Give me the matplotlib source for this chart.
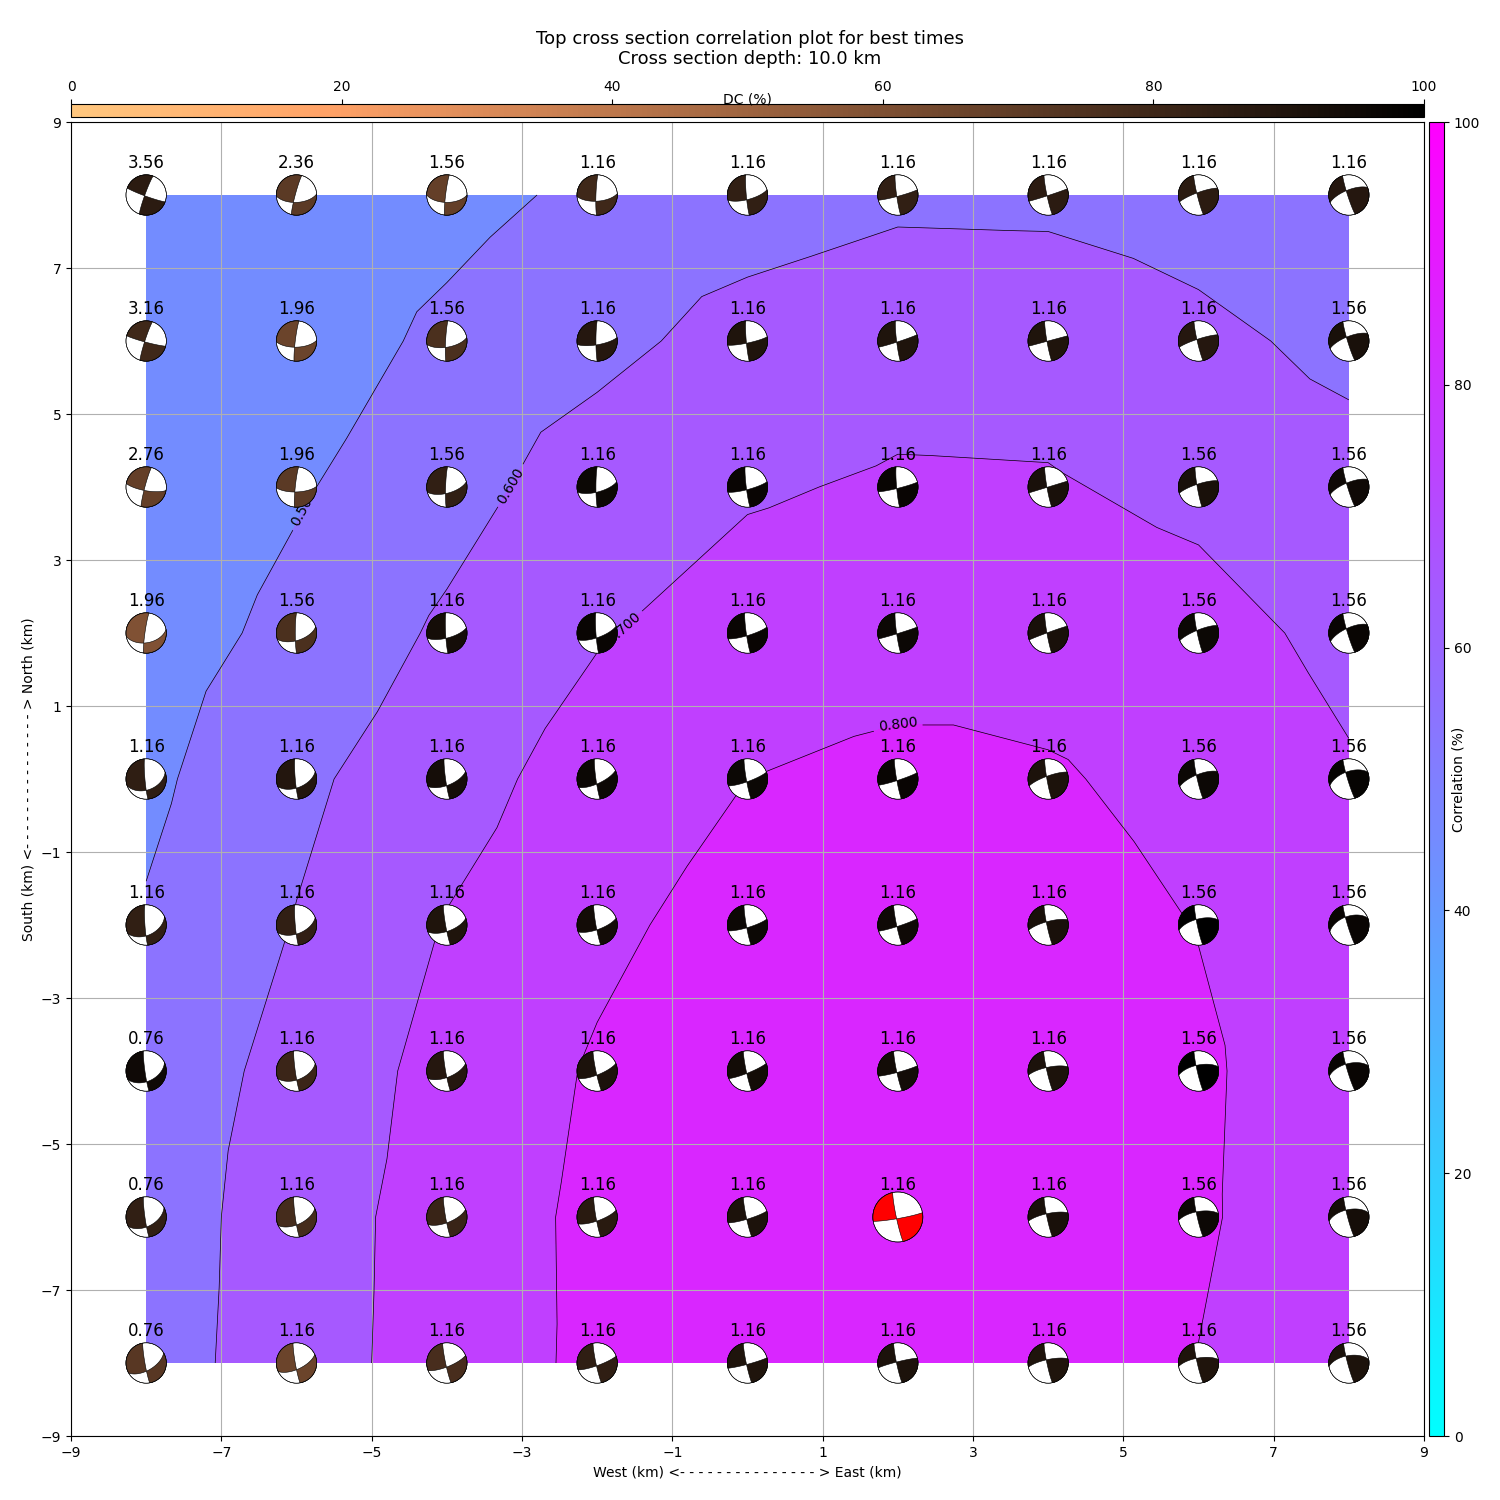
import numpy as np
import matplotlib
matplotlib.use('Agg')
import matplotlib.pyplot as plt
import matplotlib.tri as mtri
from matplotlib.patches import Ellipse, Polygon
from matplotlib.cm import ScalarMappable
from matplotlib.colors import Normalize

x_grid = [-8, -6, -4, -2, 0, 2, 4, 6, 8]
y_grid = [8, 6, 4, 2, 0, -2, -4, -6, -8]

correlation = [
    [.415, .420, .470, .520, .555, .5826, .580, .554, .540],
    [.410, .451, .520, .574, .635, .662, .660, .625, .573],
    [.415, .490, .565, .648, .690, .711, .708, .677, .640],
    [.447, .530, .615, .693, .743, .760, .760, .735, .674],
    [.479, .580, .660, .745, .800, .8235, .810, .770, .710],
    [.509, .604, .705, .780, .837, .850, .840, .7975, .730],
    [.540, .632, .733, .810, .850, .865, .855, .815, .736],
    [.550, .650, .745, .821, .860, .875, .865, .812, .737],
    [.555, .653, .747, .820, .855, .868, .850, .798, .730],
]
# split direction of every grid cell: 'n' joins top-left to bottom-right, 'p' bottom-left to top-right
cell_split = [
    'nnnnnppn',
    'npnpnppp',
    'nnppnppn',
    'nnnnnppp',
    'npnnnppp',
    'pnnpnppp',
    'nnnnnppp',
    'nnnnnppp',
]
shift_labels = [
    ['3.56', '2.36', '1.56', '1.16', '1.16', '1.16', '1.16', '1.16', '1.16'],
    ['3.16', '1.96', '1.56', '1.16', '1.16', '1.16', '1.16', '1.16', '1.56'],
    ['2.76', '1.96', '1.56', '1.16', '1.16', '1.16', '1.16', '1.56', '1.56'],
    ['1.96', '1.56', '1.16', '1.16', '1.16', '1.16', '1.16', '1.56', '1.56'],
    ['1.16', '1.16', '1.16', '1.16', '1.16', '1.16', '1.16', '1.56', '1.56'],
    ['1.16', '1.16', '1.16', '1.16', '1.16', '1.16', '1.16', '1.56', '1.56'],
    ['0.76', '1.16', '1.16', '1.16', '1.16', '1.16', '1.16', '1.56', '1.56'],
    ['0.76', '1.16', '1.16', '1.16', '1.16', '1.16', '1.16', '1.56', '1.56'],
    ['0.76', '1.16', '1.16', '1.16', '1.16', '1.16', '1.16', '1.16', '1.56'],
]
dc_percent = [
    [86, 71, 68, 80, 84, 84, 86, 86, 88],
    [80, 66, 76, 88, 90, 90, 90, 88, 92],
    [68, 71, 84, 96, 97, 97, 92, 92, 95],
    [59, 76, 93, 97, 97, 96, 92, 96, 97],
    [85, 89, 93, 96, 96, 97, 91, 96, 98],
    [84, 84, 90, 94, 96, 95, 92, 100, 97],
    [95, 81, 88, 91, 94, 94, 91, 100, 97],
    [84, 78, 82, 87, 91, 90, 92, 96, 93],
    [72, 66, 77, 85, 90, 91, 90, 90, 91],
]
strike_a = [
    [200, 195, 187, 182, 175, 172, 168, 166, 162],
    [198, 187, 183, 180, 175, 173, 170, 167, 163],
    [195, 186, 182, 180, 173, 175, 170, 170, 163],
    [188, 180, 177, 176, 172, 172, 170, 168, 163],
    [175, 175, 172, 172, 170, 170, 170, 167, 163],
    [176, 175, 170, 170, 170, 168, 168, 168, 163],
    [172, 172, 170, 168, 168, 168, 167, 167, 163],
    [172, 172, 170, 170, 168, 168, 168, 167, 165],
    [170, 170, 168, 168, 168, 168, 168, 167, 165],
]
dip_a = [
    [85, 85, 85, 85, 85, 85, 85, 85, 85],
    [85, 85, 85, 85, 85, 85, 85, 85, 85],
    [85, 85, 85, 85, 85, 85, 85, 85, 85],
    [85, 85, 85, 85, 85, 85, 85, 85, 85],
    [85, 85, 85, 85, 85, 85, 85, 85, 85],
    [85, 85, 85, 85, 85, 85, 85, 85, 85],
    [85, 85, 85, 85, 85, 85, 85, 85, 85],
    [85, 85, 85, 85, 85, 85, 85, 85, 85],
    [85, 85, 85, 85, 85, 85, 85, 85, 85],
]
strike_b = [
    [110, 87, 90, 86, 75, 75, 72, 250, 248],
    [105, 88, 80, 80, 78, 72, 75, 252, 248],
    [100, 88, 75, 75, 75, 76, 73, 252, 248],
    [80, 72, 75, 70, 73, 73, 250, 248, 245],
    [70, 68, 68, 65, 70, 72, 250, 248, 250],
    [65, 68, 70, 70, 73, 72, 255, 255, 250],
    [65, 68, 68, 68, 68, 75, 258, 258, 255],
    [62, 65, 68, 70, 73, 80, 258, 260, 258],
    [60, 65, 68, 70, 75, 256, 258, 260, 260],
]
dip_b = [
    [85, 60, 60, 65, 72, 85, 88, 80, 70],
    [85, 65, 65, 75, 82, 87, 90, 82, 72],
    [75, 70, 65, 70, 80, 85, 90, 78, 72],
    [50, 60, 70, 72, 80, 88, 88, 78, 70],
    [45, 55, 65, 72, 80, 85, 78, 72, 60],
    [48, 55, 65, 72, 80, 85, 76, 66, 55],
    [48, 55, 65, 75, 82, 85, 75, 66, 60],
    [52, 60, 68, 75, 82, 85, 76, 68, 60],
    [60, 65, 75, 80, 85, 85, 76, 70, 60],
]
best_x, best_y = 2, -6
levels = [.4, .5, .6, .7, .8, .9]
label_spots = [(-6.0, 3.76), (-3.12, 4.0), (-1.67, 2.1), (2.0, 0.74)]


def plane_normal(strike, dip):
    s, d = np.radians(strike), np.radians(dip)
    h = np.array([np.sin(s), np.cos(s), 0.0])
    dv = np.array([np.cos(d) * np.cos(s), -np.cos(d) * np.sin(s), np.sin(d)])
    return np.cross(h, dv)


def project(v):
    theta = np.arccos(np.clip(v[2], -1, 1))
    r = np.sqrt(2) * np.sin(theta / 2)
    hz = np.hypot(v[0], v[1])
    if hz < 1e-9:
        return np.array([0.0, 0.0])
    return np.array([v[0], v[1]]) / hz * r


def arc3d(a, b, n=24):
    om = np.arccos(np.clip(np.dot(a, b), -1, 1))
    if om < 1e-6:
        return [a]
    return [(np.sin((1 - t) * om) * a + np.sin(t * om) * b) / np.sin(om)
            for t in np.linspace(0, 1, n)]


def rim(az):
    a = np.radians(az)
    return np.array([np.sin(a), np.cos(a), 0.0])


def beach(ax, cx, cy, s1, d1, s2, d2, color, rx, ry, lw=0.4, zorder=5):
    ax.add_patch(Ellipse((cx, cy), 2 * rx, 2 * ry, fc='white', ec='black', lw=lw, zorder=zorder))
    n1, n2 = plane_normal(s1, d1), plane_normal(s2, d2)
    b = np.cross(n1, n2)
    b /= np.linalg.norm(b)
    if b[2] < 0:
        b = -b
    north = s1 % 180
    if north > 90:
        north -= 180
    east = s2 % 180
    for a0, a1 in ((east, north + 180), (east + 180, north + 360)):
        pts = [project(p) for p in arc3d(b, rim(a0))]
        pts += [project(rim(a)) for a in np.linspace(a0, a1, 40)]
        pts += [project(p) for p in arc3d(rim(a1), b)]
        pts = np.array(pts) * [rx, ry] + [cx, cy]
        ax.add_patch(Polygon(pts, closed=True, fc=color, ec='black', lw=lw, zorder=zorder + 0.1))
    ax.add_patch(Ellipse((cx, cy), 2 * rx, 2 * ry, fc='none', ec='black', lw=lw, zorder=zorder + 0.2))


fig = plt.figure(figsize=(15, 15), dpi=100)
W = H = 1500.0
ax = fig.add_axes([71 / W, 1 - 1436 / H, (1424 - 71) / W, (1436 - 122) / H])
ax.set_xlim(-9, 9)
ax.set_ylim(-9, 9)

xs, ys = np.meshgrid(x_grid, y_grid)
zs = np.array(correlation)
nr, nc = zs.shape
tris = []
for j in range(nr - 1):
    for i in range(nc - 1):
        tl = j * nc + i
        tr = tl + 1
        bl = tl + nc
        br = bl + 1
        if cell_split[j][i] == 'n':
            tris += [[tl, bl, br], [tl, br, tr]]
        else:
            tris += [[tl, bl, tr], [bl, br, tr]]
tri = mtri.Triangulation(xs.ravel(), ys.ravel(), tris)

ax.tricontourf(tri, zs.ravel(), levels=levels, cmap='cool', vmin=0, vmax=1, zorder=1)
cs = ax.tricontour(tri, zs.ravel(), levels=levels[1:-1], colors='black', linewidths=0.5, zorder=2)
ax.clabel(cs, fmt='%.3f', fontsize=10, manual=label_spots)
ax.grid(True)
ax.set_xticks(range(-9, 10, 2))
ax.set_yticks(range(-9, 10, 2))
ax.set_xlabel('West (km) <- - - - - - - - - - - - - - - > East (km)')
ax.set_ylabel('South (km) <- - - - - - - - - - - - - - - > North (km)')

dc_map = plt.get_cmap('copper_r')
rx0, ry0 = 20.2 / 75.17, 20.2 / 73.0
for j, y in enumerate(y_grid):
    for i, x in enumerate(x_grid):
        best = (x == best_x and y == best_y)
        col = 'red' if best else dc_map(dc_percent[j][i] / 100.0)
        k = 25 / 20.2 if best else 1.0
        beach(ax, x, y, strike_a[j][i], dip_a[j][i], strike_b[j][i], dip_b[j][i],
              col, rx0 * k, ry0 * k)
        ax.text(x, y + 0.37, shift_labels[j][i], ha='center', va='baseline',
                fontsize=12, zorder=8)

cax_top = fig.add_axes([71 / W, 1 - 117 / H, (1424 - 71) / W, 13 / H])
cb_top = fig.colorbar(ScalarMappable(Normalize(0, 100), 'copper_r'), cax=cax_top, orientation='horizontal')
cax_top.xaxis.set_ticks_position('top')
cb_top.set_ticks(range(0, 101, 20))
cax_top.xaxis.set_label_position('top')
cb_top.set_label('DC (%)')
cax_top.xaxis.set_label_coords(0.5, 1.05)

cax_right = fig.add_axes([1429 / W, 1 - 1436 / H, 15 / W, (1436 - 122) / H])
cb_right = fig.colorbar(ScalarMappable(Normalize(0, 100), 'cool'), cax=cax_right)
cb_right.set_ticks(range(0, 101, 20))
cb_right.set_label('Correlation (%)')
cax_right.yaxis.set_label_coords(1.47, 0.5)

fig.text(750 / W, 1 - 49 / H, 'Top cross section correlation plot for best times\nCross section depth: 10.0 km',
         ha='center', va='center', fontsize=13)
fig.savefig('out.png', dpi=100)
